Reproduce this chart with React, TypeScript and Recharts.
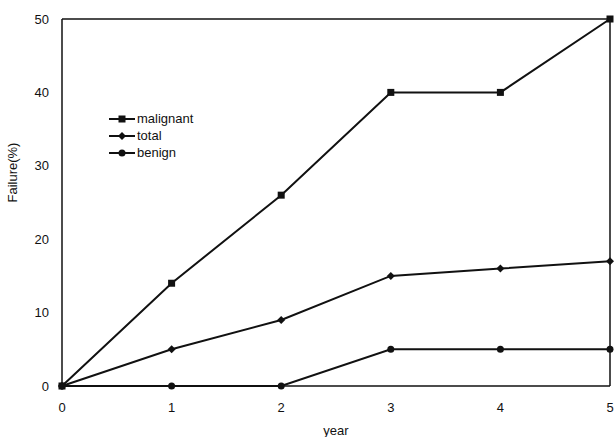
import React from "react";
import {
  LineChart,
  Line,
  XAxis,
  YAxis,
  ReferenceLine,
} from "recharts";

// Failure (%) by year, three groups.
const YEARS = [0, 1, 2, 3, 4, 5];
const MALIGNANT = [0, 14, 26, 40, 40, 50];
const TOTAL = [0, 5, 9, 15, 16, 17];
const BENIGN = [0, 0, 0, 5, 5, 5];
const Y_TICKS = [0, 10, 20, 30, 40, 50];

const data = YEARS.map((y, i) => ({
  year: y,
  malignant: MALIGNANT[i],
  total: TOTAL[i],
  benign: BENIGN[i],
}));

const FONT = "'Liberation Sans', Arial, sans-serif";
const INK = "#111";

type Marker = "square" | "diamond" | "circle";

function drawMarker(kind: Marker, cx: number, cy: number, key?: string) {
  if (kind === "square")
    return <rect key={key} x={cx - 3.5} y={cy - 3.5} width={7} height={7} fill={INK} />;
  if (kind === "diamond")
    return (
      <polygon
        key={key}
        points={`${cx},${cy - 4} ${cx + 4},${cy} ${cx},${cy + 4} ${cx - 4},${cy}`}
        fill={INK}
      />
    );
  return <circle key={key} cx={cx} cy={cy} r={3.5} fill={INK} />;
}

const dotFor = (kind: Marker) => (p: any) =>
  drawMarker(kind, p.cx, p.cy, `${kind}-${p.index}`);

const SERIES: { key: string; marker: Marker }[] = [
  { key: "malignant", marker: "square" },
  { key: "total", marker: "diamond" },
  { key: "benign", marker: "circle" },
];

// legend sits inside the plot, top-left, like the scan
function LegendBox() {
  return (
    <div
      style={{
        position: "absolute",
        left: 108,
        top: 110,
        fontFamily: FONT,
        fontSize: 13,
        color: INK,
      }}
    >
      {SERIES.map((s) => (
        <div key={s.key} style={{ display: "flex", alignItems: "center", height: 17 }}>
          <svg width={28} height={12}>
            <line x1={1} y1={6} x2={27} y2={6} stroke={INK} strokeWidth={2} />
            {drawMarker(s.marker, 14, 6)}
          </svg>
          <span style={{ marginLeft: 1 }}>{s.key}</span>
        </div>
      ))}
    </div>
  );
}

export default function App() {
  return (
    <div style={{ position: "absolute", left: 0, top: 0, background: "#fff" }}>
      <LineChart
        width={615}
        height={437}
        data={data}
        margin={{ top: 19, right: 5, left: 0, bottom: 21 }}
      >
        <XAxis
          dataKey="year"
          type="number"
          domain={[0, 5]}
          ticks={YEARS}
          tickLine={false}
          axisLine={{ stroke: INK, strokeWidth: 1.5 }}
          tick={{ fill: INK, fontSize: 13, fontFamily: FONT }}
          tickMargin={11}
          height={30}
          label={{
            value: "year",
            position: "insideBottom",
            offset: -19,
            fill: INK,
            fontSize: 13,
            fontFamily: FONT,
          }}
        />
        <YAxis
          type="number"
          domain={[0, 50]}
          ticks={Y_TICKS}
          width={62}
          tickLine={false}
          tickMargin={7}
          axisLine={{ stroke: INK, strokeWidth: 1.5 }}
          tick={{ fill: INK, fontSize: 13, fontFamily: FONT }}
          label={{
            value: "Failure(%)",
            angle: -90,
            position: "insideLeft",
            offset: 12,
            fill: INK,
            fontSize: 13,
            fontFamily: FONT,
          }}
        />
        <ReferenceLine y={50} stroke={INK} strokeWidth={1.5} />
        <ReferenceLine x={5} stroke={INK} strokeWidth={1.5} />
        {SERIES.map((s) => (
          <Line
            key={s.key}
            dataKey={s.key}
            type="linear"
            stroke={INK}
            strokeWidth={2}
            dot={dotFor(s.marker)}
            activeDot={false}
            isAnimationActive={false}
          />
        ))}
      </LineChart>
      <LegendBox />
    </div>
  );
}
